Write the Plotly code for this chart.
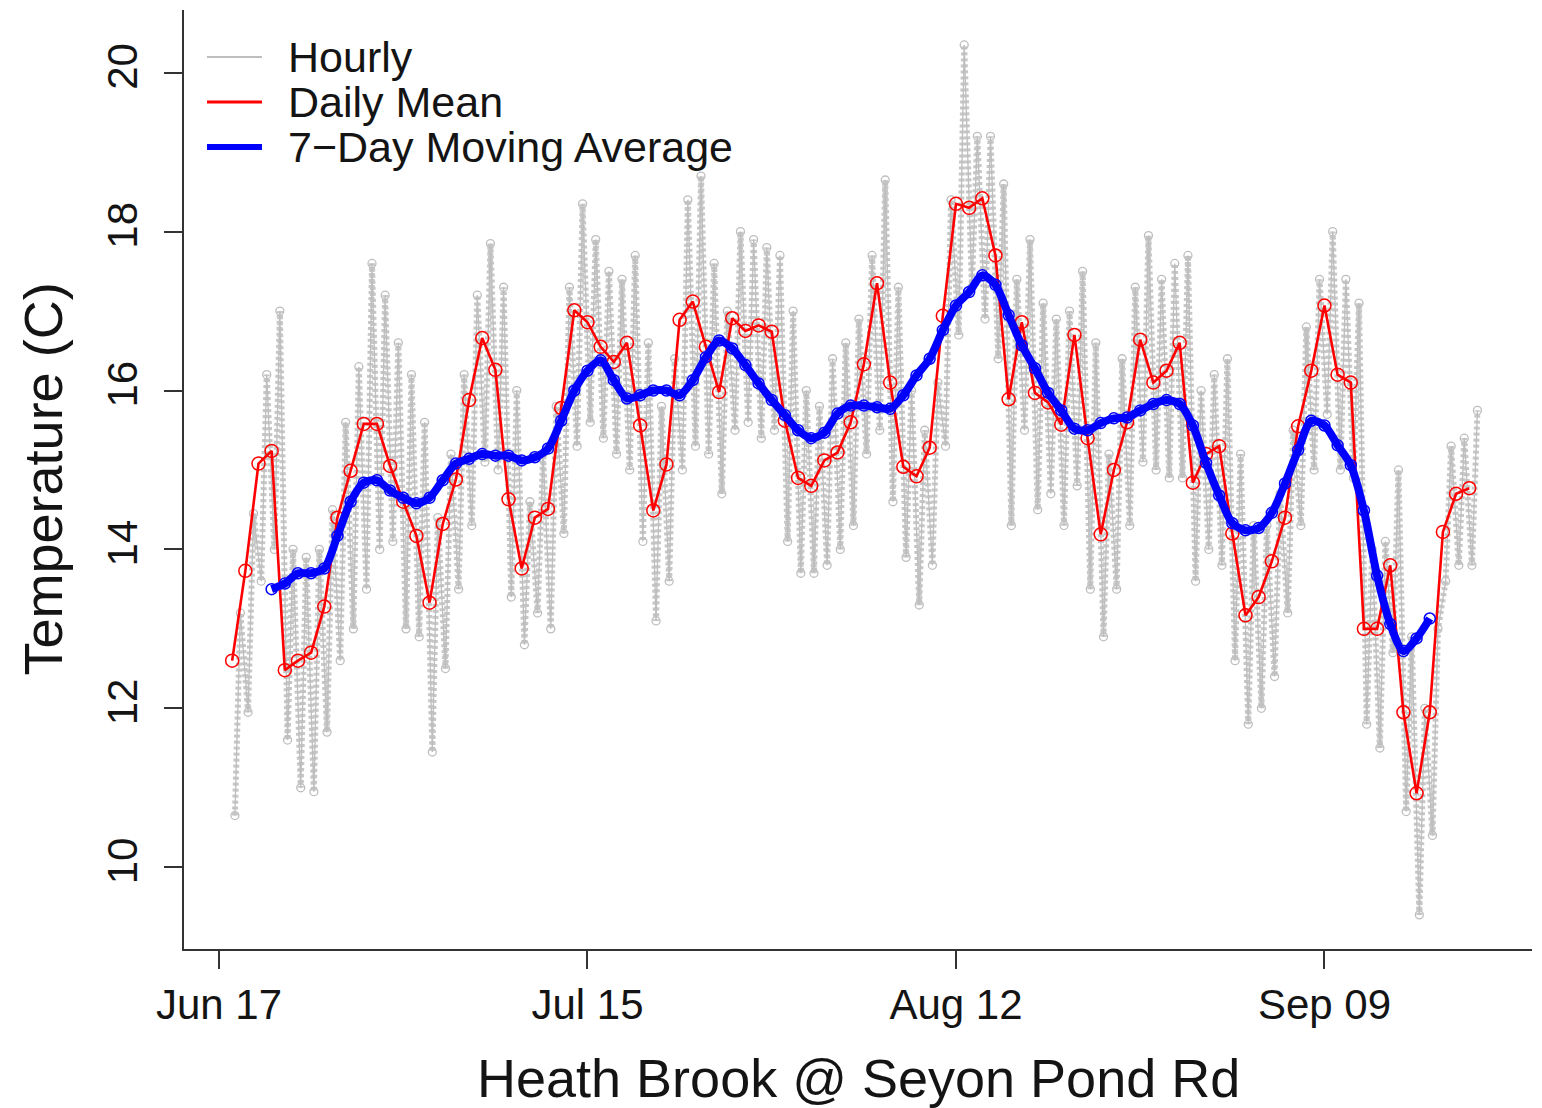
import plotly.graph_objects as go
import pandas as pd

# ---------------- data ----------------
START_DATE = "2019-06-17"

day_index = list(range(1, 96))  # days after Jun 17

daily_mean = [
    12.6, 13.73, 15.08, 15.24, 12.48, 12.6, 12.7, 13.28, 14.4, 14.99,
    15.58, 15.58, 15.05, 14.6, 14.17, 13.33, 14.32, 14.88, 15.88, 16.66,
    16.26, 14.63, 13.76, 14.4, 14.51, 15.78, 17.01, 16.86, 16.55, 16.36,
    16.6, 15.56, 14.49, 15.07, 16.89, 17.12, 16.55, 15.98, 16.91, 16.75,
    16.82, 16.74, 15.62, 14.9, 14.8, 15.12, 15.22, 15.6, 16.33, 17.35,
    16.1, 15.04, 14.92, 15.28, 16.94, 18.35, 18.3, 18.42, 17.7, 15.89,
    16.86, 15.97, 15.85, 15.57, 16.7, 15.4, 14.19, 15.0, 15.6, 16.64,
    16.1, 16.25, 16.6, 14.84, 15.2, 15.3, 14.2, 13.17, 13.4, 13.85,
    14.4, 15.55, 16.25, 17.07, 16.2, 16.1, 13.0, 13.0, 13.8, 11.95,
    10.93, 11.95, 14.22, 14.7, 14.77,
]

hourly_min = [
    10.65, 11.95, 13.6, 14.0, 11.6, 11.0, 10.95, 11.7, 12.6, 13.0,
    13.5, 14.0, 14.1, 13.0, 12.9, 11.45, 12.5, 13.5, 14.3, 15.1,
    15.0, 13.4, 12.8, 13.2, 13.0, 14.2, 15.3, 15.6, 15.4, 15.2,
    15.0, 14.1, 13.1, 13.6, 15.0, 15.3, 15.2, 14.7, 15.5, 15.6,
    15.4, 15.5, 14.1, 13.7, 13.7, 13.8, 14.0, 14.3, 15.2, 15.5,
    14.6, 13.9, 13.3, 13.8, 15.3, 16.7, 17.3, 16.9, 16.4, 14.3,
    15.5, 14.5, 14.7, 14.3, 14.8, 13.5, 12.9, 13.5, 14.3, 15.1,
    15.0, 14.9, 14.9, 13.6, 14.0, 13.8, 12.6, 11.8, 12.0, 12.4,
    13.2, 14.3, 15.0, 15.7, 15.0, 14.9, 11.8, 11.5, 12.7, 10.7,
    9.4, 10.4, 13.6, 13.8, 13.8,
]

hourly_max = [
    13.2, 14.45, 16.2, 17.0, 14.0, 13.9, 14.0, 14.5, 15.6, 16.3,
    17.6, 17.2, 16.6, 16.2, 15.6, 14.4, 15.2, 16.2, 17.2, 17.85,
    17.3, 16.0, 14.6, 15.2, 15.8, 17.3, 18.35, 17.9, 17.5, 17.4,
    17.7, 16.6, 15.8, 16.4, 18.4, 18.7, 17.6, 17.0, 18.0, 17.9,
    17.8, 17.7, 17.0, 16.0, 15.8, 16.4, 16.6, 16.9, 17.7, 18.65,
    17.3, 16.0, 15.5, 16.1, 18.4, 20.35, 19.2, 19.2, 18.6, 17.4,
    17.9, 17.1, 16.9, 17.0, 17.5, 16.6, 15.2, 16.4, 17.3, 17.95,
    17.4, 17.6, 17.7, 16.0, 16.2, 16.4, 15.2, 14.3, 14.3, 14.7,
    15.5, 16.8, 17.4, 18.0, 17.4, 17.1, 14.0, 14.1, 15.0, 12.9,
    12.0, 13.0, 15.3, 15.4, 15.75,
]

ma_days = list(range(4, 93))
ma_values = [
    13.5, 13.57, 13.7, 13.7, 13.76, 14.17, 14.6, 14.84, 14.87, 14.74,
    14.65, 14.58, 14.65, 14.87, 15.08, 15.14, 15.2, 15.18, 15.18, 15.12,
    15.16, 15.27, 15.62, 16.0, 16.25, 16.38, 16.13, 15.9, 15.94, 16.0,
    16.0, 15.94, 16.13, 16.42, 16.63, 16.53, 16.32, 16.09, 15.88, 15.69,
    15.5, 15.4, 15.47, 15.71, 15.81, 15.81, 15.79, 15.77, 15.94, 16.19,
    16.4, 16.76, 17.07, 17.24, 17.45, 17.33, 16.95, 16.57, 16.28, 15.97,
    15.75, 15.52, 15.5, 15.59, 15.65, 15.66, 15.75, 15.83, 15.88, 15.83,
    15.56, 15.09, 14.68, 14.33, 14.24, 14.27, 14.46, 14.83, 15.25, 15.62,
    15.56, 15.31, 15.06, 14.49, 13.67, 13.06, 12.72, 12.88, 13.13,
]

tick_dates = ["2019-06-17", "2019-07-15", "2019-08-12", "2019-09-09"]
tick_labels = ["Jun 17", "Jul 15", "Aug 12", "Sep 09"]
y_ticks = [10, 12, 14, 16, 18, 20]

legend_names = ["Hourly", "Daily Mean", "7\u2212Day Moving Average"]

# ---------------- build the traces ----------------
start = pd.Timestamp(START_DATE)
daily_x = [start + pd.Timedelta(days=d) for d in day_index]
ma_x = [start + pd.Timedelta(days=d) for d in ma_days]

hourly_x, hourly_y = [], []
for d, lo, hi in zip(day_index, hourly_min, hourly_max):
    hourly_x.append(start + pd.Timedelta(days=d, hours=5))
    hourly_y.append(lo)
    hourly_x.append(start + pd.Timedelta(days=d, hours=15))
    hourly_y.append(hi)

GREY = "#BEBEBE"
RED = "#FF0000"
BLUE = "#0000FF"
TXT = "#141414"
FONT = "Arial, 'Liberation Sans', sans-serif"

fig = go.Figure()

# hourly: thin line with open circles
fig.add_trace(go.Scatter(
    x=hourly_x, y=hourly_y, mode="lines+markers",
    line=dict(color=GREY, width=1.3),
    marker=dict(symbol="circle-open", size=8, color=GREY, line=dict(width=1.3)),
    showlegend=False, hoverinfo="skip"))
# beaded look along the hourly line
fig.add_trace(go.Scatter(
    x=hourly_x, y=hourly_y, mode="lines",
    line=dict(color=GREY, width=6, dash="3px,3px"),
    opacity=0.85, showlegend=False, hoverinfo="skip"))

# daily mean
fig.add_trace(go.Scatter(
    x=daily_x, y=daily_mean, mode="lines+markers",
    line=dict(color=RED, width=2.6),
    marker=dict(symbol="circle-open", size=13, color=RED, line=dict(width=1.5)),
    showlegend=False))

# 7-day moving average
fig.add_trace(go.Scatter(
    x=ma_x, y=ma_values, mode="lines+markers",
    line=dict(color=BLUE, width=8, shape="spline", smoothing=0.8),
    marker=dict(symbol="circle-open", size=11, color=BLUE, line=dict(width=1.5)),
    showlegend=False))

# ---------------- layout ----------------
ML, MR, MT, MB = 184, 10, 10, 159
W, H = 1542, 1108
PW, PH = W - ML - MR, H - MT - MB

def px_x(px):
    return (px - ML) / PW

def px_y(py):
    return (H - MB - py) / PH

x_lo = start + pd.Timedelta(days=-2.66)
x_hi = start + pd.Timedelta(days=99.77)

# legend drawn as line samples + text (R-style legend, no box)
legend_rows = [57, 102, 147]
legend_cols = [GREY, RED, BLUE]
legend_widths = [2, 3, 6]
shapes, annotations = [], []
for name, col, lw, ry in zip(legend_names, legend_cols, legend_widths, legend_rows):
    shapes.append(dict(type="line", xref="paper", yref="paper",
                       x0=px_x(207), x1=px_x(262), y0=px_y(ry), y1=px_y(ry),
                       line=dict(color=col, width=lw)))
    annotations.append(dict(text=name, xref="paper", yref="paper",
                            x=px_x(286), y=px_y(ry), xanchor="left", yanchor="middle",
                            showarrow=False,
                            font=dict(size=43, family=FONT, color=TXT)))

annotations += [
    dict(text="Heath Brook @ Seyon Pond Rd", xref="paper", yref="paper",
         x=0.5, y=0, xanchor="center", yanchor="middle", yshift=-129,
         showarrow=False, font=dict(size=54, family=FONT, color=TXT)),
    dict(text="Temperature (C)", xref="paper", yref="paper",
         x=0, y=0.5, xanchor="center", yanchor="middle", xshift=-142,
         textangle=-90, showarrow=False,
         font=dict(size=54, family=FONT, color=TXT)),
]

fig.update_layout(
    width=W, height=H,
    margin=dict(l=ML, r=MR, t=MT, b=MB),
    paper_bgcolor="white", plot_bgcolor="white",
    font=dict(family=FONT, size=42, color=TXT),
    showlegend=False,
    xaxis=dict(range=[x_lo, x_hi], showgrid=False, zeroline=False,
               showline=True, linecolor="#333333", linewidth=1.5,
               ticks="outside", ticklen=18, tickwidth=1.5, tickcolor="#333333",
               tickvals=tick_dates, ticktext=tick_labels,
               tickfont=dict(size=42, family=FONT, color=TXT),
               ticklabelstandoff=0),
    yaxis=dict(range=[8.97, 20.79], showgrid=False, zeroline=False,
               showline=True, linecolor="#333333", linewidth=1.5,
               ticks="outside", ticklen=18, tickwidth=1.5, tickcolor="#333333",
               tickvals=y_ticks, ticktext=[str(v) for v in y_ticks],
               tickangle=-90, tickfont=dict(size=42, family=FONT, color=TXT),
               ticklabelstandoff=10),
    shapes=shapes,
    annotations=annotations,
)

fig.write_html("out.html")
